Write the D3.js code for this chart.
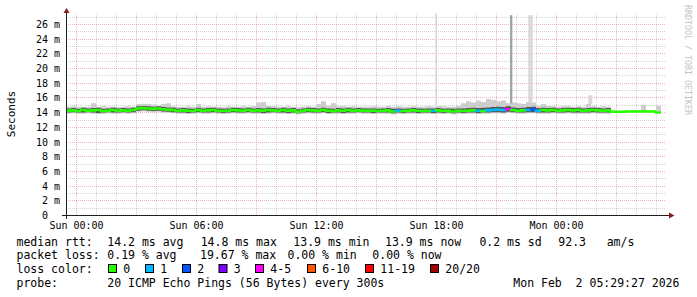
<!DOCTYPE html>
<html><head><meta charset="utf-8">
<script src="https://cdn.jsdelivr.net/npm/d3@7/dist/d3.min.js"></script>
<style>html,body{margin:0;padding:0;background:#fff;}svg{display:block}</style>
</head><body>
<svg id="c" width="697" height="297"></svg>
<script>
// ---------- data ----------
const startTime = "2026-01-31T23:29:27Z";
const endTime   = "2026-02-02T05:29:27Z";
const dataStart = "2026-01-31T23:30:00Z";
const stepMinutes = 15;

// median RTT (ms) per 15-minute step
const median = [
 14.2,14.25,14.15,14.3,14.2,14.25,14.3,14.15,14.2,14.3,
 14.2,14.25,14.2,14.3,14.5,14.55,14.5,14.45,14.5,14.4,
 14.35,14.3,14.2,14.25,14.2,14.15,14.3,14.2,14.25,14.3,
 14.2,14.15,14.2,14.3,14.25,14.2,14.3,14.2,14.25,14.2,
 14.3,14.25,14.2,14.3,14.2,14.25,14.05,14.2,14.3,14.25,
 14.2,14.3,14.2,14.15,14.25,14.2,14.3,14.2,14.25,14.2,
 14.2,14.2,14.15,14.2,14.25,14.1,14.2,14.15,14.2,14.25,
 14.2,14.15,14.2,14.2,14.25,14.15,14.2,14.1,14.2,14.15,
 14.2,14.25,14.2,14.15,14.25,14.3,14.35,14.3,14.4,14.3,
 14.2,14.25,14.3,14.35,14.2,14.3,14.25,14.3,14.2,14.25,
 14.3,14.25,14.3,14.2,14.25,14.3,14.25,14.2,14.25,14.05,
 14.05,14.05,14.1,14.1,14.1,14.1,14.1,14.1,13.95
];
// loss category index per step (into lossLabels)
const lossIdx = [
 0,0,0,0,0,0,0,0,0,0, 0,0,0,0,0,0,0,0,0,0,
 0,0,0,0,0,0,0,0,0,0, 0,0,0,0,0,0,0,0,0,0,
 0,0,0,0,0,0,0,0,0,0, 0,0,0,0,0,0,0,0,0,0,
 0,0,0,0,0,0,1,0,0,0, 0,0,0,1,0,0,0,0,0,0,
 0,0,1,0,1,1,1,1,4,0, 0,0,1,2,1,0,0,0,0,0,
 0,0,0,0,0,0,0,0,0,0, 0,0,0,0,0,0,0,0,0
];
// smoke: min / max of pings per step (ms)
const smokeMin = [
 13.8,13.85,13.8,13.8,13.85,13.8,13.75,13.8,13.85,13.8,
 13.8,13.85,13.8,13.85,14.05,14.1,14.05,14.0,14.05,13.95,
 13.9,13.85,13.8,13.8,13.75,13.8,13.85,13.8,13.8,13.85,
 13.8,13.75,13.8,13.85,13.8,13.8,13.85,13.8,13.8,13.75,
 13.8,13.85,13.8,13.8,13.75,13.8,13.7,13.8,13.85,13.8,
 13.8,13.85,13.75,13.8,13.8,13.75,13.8,13.8,13.85,13.8,
 13.8,13.75,13.8,13.8,13.8,13.7,13.8,13.75,13.8,13.8,
 13.75,13.8,13.8,13.75,13.8,13.75,13.8,13.7,13.8,13.75,
 13.8,13.8,13.75,13.8,13.8,13.85,13.85,13.8,13.9,13.85,
 13.8,13.8,13.85,13.85,13.8,13.8,13.8,13.85,13.8,13.8,
 13.85,13.8,13.8,13.8,13.8,13.85,13.8,13.8,13.8,null,
 null,null,null,null,null,14.15,null,null,14.05
];
const smokeMax = [
 14.75,14.8,14.75,14.7,14.75,15.2,14.75,14.8,14.75,14.75,
 14.7,14.75,14.8,14.75,15.1,15.15,15.1,15.05,14.85,15.1,
 15.2,14.8,14.75,14.75,14.8,14.75,15.1,14.75,14.8,14.75,
 14.75,14.7,14.8,14.75,14.75,14.8,14.75,14.85,15.3,15.4,
 14.85,14.8,14.75,14.75,14.8,14.75,14.7,14.75,14.8,14.75,
 15.1,15.5,14.85,15.2,14.8,14.85,14.75,14.8,14.75,14.75,
 14.75,14.8,14.75,14.75,14.85,14.75,14.8,14.75,14.75,14.8,
 14.75,14.75,14.8,14.75,14.85,14.8,14.75,14.75,14.85,15.2,
 15.5,15.3,15.6,15.4,15.8,15.7,15.5,15.6,15.2,15.3,
 15.2,15.1,15.4,15.3,14.85,15.1,14.85,14.8,14.75,14.85,
 14.8,14.75,14.8,14.75,15.1,14.8,14.75,14.8,14.75,null,
 null,null,null,null,null,15.0,null,null,14.9
];
// dense core of the smoke (ms)
const coreLo = [
 13.95,14.0,13.95,13.95,14.0,13.95,13.9,13.95,14.0,13.95,
 13.95,14.0,13.95,14.0,14.2,14.25,14.2,14.15,14.2,14.1,
 14.05,14.0,13.95,13.95,13.9,13.95,14.0,13.95,13.95,14.0,
 13.95,13.9,13.95,14.0,13.95,13.95,14.0,13.95,13.95,13.9,
 13.95,14.0,13.95,13.95,13.9,13.95,13.85,13.95,14.0,13.95,
 13.95,14.0,13.9,13.95,13.95,13.9,13.95,13.95,14.0,13.95,
 13.95,13.9,13.95,13.95,13.95,13.85,13.95,13.9,13.95,13.95,
 13.9,13.95,13.95,13.9,13.95,13.9,13.95,13.85,13.95,13.9,
 13.95,13.95,13.9,13.95,13.95,14.0,14.0,13.95,14.05,14.0,
 13.95,13.95,14.0,14.0,13.95,13.95,13.95,14.0,13.95,13.95,
 14.0,13.95,13.95,13.95,13.95,14.0,13.95,13.95,13.95,null,
 null,null,null,null,null,null,null,null,null
];
const coreHi = [
 14.5,14.55,14.45,14.6,14.5,14.55,14.6,14.45,14.5,14.6,
 14.5,14.55,14.5,14.6,14.8,14.85,14.8,14.75,14.8,14.7,
 14.65,14.6,14.5,14.55,14.5,14.45,14.6,14.5,14.55,14.6,
 14.5,14.45,14.5,14.6,14.55,14.5,14.6,14.5,14.55,14.5,
 14.6,14.55,14.5,14.6,14.5,14.55,14.4,14.5,14.6,14.55,
 14.5,14.6,14.5,14.45,14.55,14.5,14.6,14.5,14.55,14.5,
 14.5,14.5,14.45,14.5,14.55,14.45,14.5,14.45,14.5,14.55,
 14.5,14.45,14.5,14.5,14.55,14.45,14.5,14.45,14.5,14.5,
 14.55,14.6,14.55,14.6,14.65,14.7,14.75,14.7,14.8,14.65,
 14.55,14.6,14.7,14.75,14.55,14.6,14.55,14.6,14.5,14.55,
 14.6,14.55,14.6,14.5,14.55,14.6,14.55,14.5,14.55,null,
 null,null,null,null,null,null,null,null,null
];
// isolated tall smoke spikes
const spikeTimes   = ["2026-02-01T17:58:00Z","2026-02-01T21:42:00Z","2026-02-01T22:37:00Z","2026-02-02T01:37:00Z"];
const spikeMinutes = [5, 7, 13, 12];
const spikeTop     = [27.5, 27.2, 27.2, 16.3];
const spikeShade   = [0, 1, 0, 0];

const yTicks = [0,2,4,6,8,10,12,14,16,18,20,22,24,26];
const yTickLabels = ["0","2 m","4 m","6 m","8 m","10 m","12 m","14 m","16 m","18 m","20 m","22 m","24 m","26 m"];
const xTickTimes = ["2026-02-01T00:00:00Z","2026-02-01T06:00:00Z","2026-02-01T12:00:00Z","2026-02-01T18:00:00Z","2026-02-02T00:00:00Z"];
const xTickLabels = ["Sun 00:00","Sun 06:00","Sun 12:00","Sun 18:00","Mon 00:00"];

const lossLabels = ["0","1","2","3","4-5","6-10","11-19","20/20"];
const lossColors = ["#26ff00","#00b8ff","#0059ff","#7e00ff","#ff00ff","#ff5500","#ff0000","#a10000"];

const rttStats  = ["14.2 ms avg","14.8 ms max","13.9 ms min","13.9 ms now","0.2 ms sd","92.3","am/s"];
const lossStats = ["0.19 % avg","19.67 % max","0.00 % min","0.00 % now"];
const probeText = "20 ICMP Echo Pings (56 Bytes) every 300s";
const stampText = "Mon Feb  2 05:29:27 2026";
const yTitle = "Seconds";
const watermark = "RRDTOOL / TOBI OETIKER";

// ---------- layout ----------
const mono = "'DejaVu Sans Mono', monospace";
const svg = d3.select("#c");
const pLeft = 66, pRight = 666, pTop = 13, pBottom = 215;
const x = d3.scaleUtc().domain([new Date(startTime), new Date(endTime)]).range([65.817, 665.817]);
const y = d3.scaleLinear().domain([0, 27.5]).range([pBottom, pTop]);
const xg = x.copy().interpolate(d3.interpolateRound);
const yg = y.copy().interpolate(d3.interpolateRound);

const t0 = new Date(dataStart).getTime();
const stepMs = stepMinutes * 60000;
const tAt = i => new Date(t0 + i * stepMs);

const minorCol = "rgba(143,143,143,0.38)";
const majorCol = "rgba(222,79,79,0.42)";

// grid
function gridStyle(g, col) {
  g.select(".domain").remove();
  g.selectAll("line").attr("stroke", col).attr("stroke-dasharray", "1,1");
}
const hours = d3.utcHour.every(1).range(new Date(startTime), new Date(endTime));
svg.append("g").attr("transform", `translate(0,${pBottom})`)
  .call(d3.axisBottom(xg).tickValues(hours.filter(h => h.getUTCHours() % 3 !== 0)).tickSize(-(pBottom - pTop)).tickFormat(""))
  .call(g => gridStyle(g, minorCol));
svg.append("g").attr("transform", `translate(0,${pBottom})`)
  .call(d3.axisBottom(xg).tickValues(hours.filter(h => h.getUTCHours() % 3 === 0)).tickSize(-(pBottom - pTop)).tickFormat(""))
  .call(g => gridStyle(g, majorCol));
svg.append("g").attr("transform", `translate(${pLeft},0)`)
  .call(d3.axisLeft(yg).tickValues(d3.range(1, 28, 2)).tickSize(-(pRight - pLeft)).tickFormat(""))
  .call(g => gridStyle(g, minorCol));
svg.append("g").attr("transform", `translate(${pLeft},0)`)
  .call(d3.axisLeft(yg).tickValues(yTicks.slice(1)).tickSize(-(pRight - pLeft)).tickFormat(""))
  .call(g => gridStyle(g, majorCol));

// smoke
function stepData(lo, hi) {
  const pts = [];
  lo.forEach((v, i) => {
    const h = hi[i];
    if (v == null || h == null) { pts.push(null); return; }
    pts.push({ t: tAt(i), lo: v, hi: h });
    pts.push({ t: tAt(i + 1), lo: v, hi: h });
  });
  return pts;
}
const area = d3.area().defined(d => d != null).x(d => x(d.t)).y0(d => y(d.lo)).y1(d => y(d.hi));
svg.append("path").attr("d", area(stepData(smokeMin, smokeMax))).attr("fill", "#cdcdcd");

const spikeCols = ["#d9d9d9", "#a3a3a3"];
spikeTimes.forEach((s, k) => {
  const ts = new Date(s);
  const te = new Date(ts.getTime() + spikeMinutes[k] * 60000);
  const idx = Math.floor((ts.getTime() - t0) / stepMs);
  const base = smokeMax[idx] != null ? smokeMax[idx] : median[idx];
  svg.append("rect").attr("x", x(ts)).attr("width", x(te) - x(ts))
    .attr("y", y(spikeTop[k])).attr("height", y(base) - y(spikeTop[k]))
    .attr("fill", spikeCols[spikeShade[k]]);
});
svg.append("path").attr("d", area(stepData(coreLo, coreHi))).attr("fill", "#555555");

// median line coloured by loss
const line = d3.line();
const medG = svg.append("g");
median.forEach((v, i) => {
  const x0 = x(tAt(i)), x1 = x(tAt(i + 1)), yv = y(v);
  const pts = (i > 0) ? [[x0, y(median[i - 1])], [x0, yv], [x1, yv]] : [[x0, yv], [x1, yv]];
  medG.append("path").attr("d", line(pts)).attr("fill", "none")
    .attr("stroke", lossColors[lossIdx[i]]).attr("stroke-width", 2.6);
});

// axes
const axisCol = "#1f1f1f", arrowCol = "#801f1f";
svg.append("line").attr("x1", 62).attr("x2", 669).attr("y1", pBottom + 0.5).attr("y2", pBottom + 0.5).attr("stroke", axisCol);
svg.append("line").attr("x1", pLeft + 0.5).attr("x2", pLeft + 0.5).attr("y1", 219).attr("y2", pTop).attr("stroke", axisCol);
svg.append("path").attr("d", `M${pLeft + 0.5 - 3},${pTop}L${pLeft + 0.5 + 3},${pTop}L${pLeft + 0.5},${pTop - 5}Z`).attr("fill", arrowCol);
svg.append("path").attr("d", `M669,${pBottom + 0.5 - 3}L669,${pBottom + 0.5 + 3}L674.5,${pBottom + 0.5}Z`).attr("fill", arrowCol);

// tick labels
const yl = svg.append("g").attr("transform", `translate(${pLeft},0)`)
  .call(d3.axisLeft(yg).tickValues(yTicks).tickSize(0).tickPadding(6)
    .tickFormat((d, i) => yTickLabels[i]));
yl.select(".domain").remove();
yl.selectAll("text").attr("font-family", mono).attr("font-size", "10px").attr("fill", "#000");
yl.selectAll("text").filter(d => d === 0).attr("x", -18);

const xl = svg.append("g").attr("transform", `translate(0,${pBottom})`)
  .call(d3.axisBottom(xg).tickValues(xTickTimes.map(s => new Date(s))).tickSize(0).tickPadding(6.5)
    .tickFormat((d, i) => xTickLabels[i]));
xl.select(".domain").remove();
xl.selectAll("text").attr("font-family", mono).attr("font-size", "10px").attr("fill", "#000");

// y title
svg.append("text").attr("transform", "translate(14.5,114) rotate(-90)").attr("text-anchor", "middle")
  .attr("font-family", mono).attr("font-size", "11px").attr("fill", "#000").text(yTitle);
// watermark
svg.append("text").attr("transform", "translate(684.5,5) rotate(90)").attr("text-anchor", "start")
  .attr("font-family", mono).attr("font-size", "8.3px").attr("fill", "#c4c4c4").text(watermark);

// legend
const fs = "11.5px";
function txt(xp, yp, s) {
  svg.append("text").attr("x", xp).attr("y", yp).attr("font-family", mono).attr("font-size", fs)
    .attr("fill", "#000").attr("xml:space", "preserve").style("white-space", "pre").text(s);
}
const rowY = [245.5, 259.3, 273.3, 287.2];
const colX = 16.5, valX = 107.3;
txt(colX, rowY[0], "median rtt:");
const rttX = [107.3, 200.7, 293.3, 385, 479.4, 558.3, 606.7];
rttStats.forEach((s, i) => txt(rttX[i], rowY[0], s));
txt(colX, rowY[1], "packet loss:");
const lossX = [107.3, 200, 287.5, 372.3];
lossStats.forEach((s, i) => txt(lossX[i], rowY[1], s));
txt(colX, rowY[2], "loss color:");
const boxX = [108.5, 145.5, 182.5, 219, 255.5, 307.5, 365.5, 430.5];
lossLabels.forEach((s, i) => {
  svg.append("rect").attr("x", boxX[i]).attr("y", 264.5).attr("width", 8).attr("height", 8)
    .attr("fill", lossColors[i]).attr("stroke", "#000").attr("stroke-width", 1);
  txt(boxX[i] + 14.8, rowY[2], s);
});
txt(colX, rowY[3], "probe:");
txt(valX, rowY[3], probeText);
txt(513.3, rowY[3], stampText);
</script>
</body></html>
